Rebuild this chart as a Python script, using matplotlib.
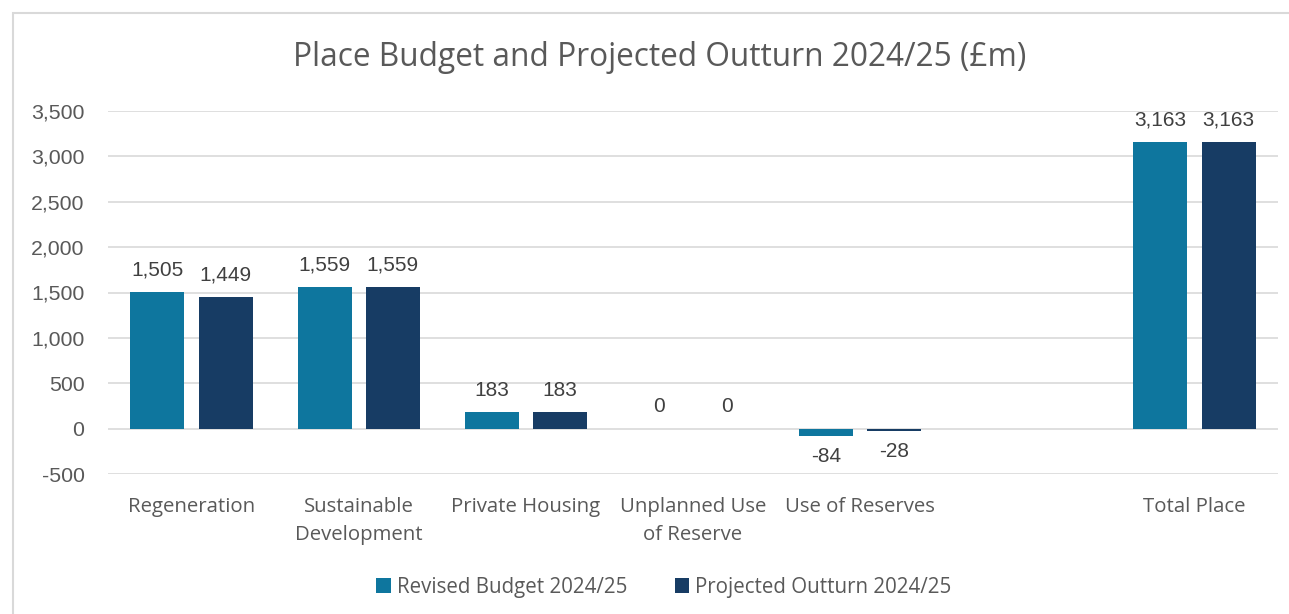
import matplotlib.pyplot as plt
import numpy as np
from matplotlib.patches import Rectangle

# chart data (£m)
categories = ['Regeneration', 'Sustainable\nDevelopment', 'Private Housing',
              'Unplanned Use\nof Reserve', 'Use of Reserves', '', 'Total Place']
budget = [1505, 1559, 183, 0, -84, None, 3163]
outturn = [1449, 1559, 183, 0, -28, None, 3163]
series_names = ['Revised Budget 2024/25', 'Projected Outturn 2024/25']
yticks = [-500, 0, 500, 1000, 1500, 2000, 2500, 3000, 3500]

teal = '#0E769E'
navy = '#173C64'
grey_txt = '#595959'
cat_font = 'Open Sans'
num_font = 'Liberation Sans'

fig = plt.figure(figsize=(12.89, 6.14), dpi=100)
ax = fig.add_axes([108/1289, 1-474/614, 1170/1289, 363/614])

# light chart border like the Excel chart area
fig.patches.append(Rectangle((13/1289, -0.1), 1.2, 1-13/614+0.1, transform=fig.transFigure,
                             fill=False, edgecolor='#D9D9D9', lw=1.5))

x = np.arange(len(categories))
w = 0.323
off = 0.204
for vals, dx, col, name in [(budget, -off, teal, series_names[0]), (outturn, off, navy, series_names[1])]:
    idx = [i for i, v in enumerate(vals) if v is not None]
    hs = [vals[i] for i in idx]
    ax.bar(x[idx] + dx, hs, width=w, color=col, label=name, zorder=3)
    for i, v in zip(idx, hs):
        if v >= 0:
            ax.annotate(f'{v:,}', (x[i] + dx, v), xytext=(0, 9), textcoords='offset points',
                        ha='center', va='bottom', fontsize=15, color='#404040', family=num_font)
        else:
            ax.annotate(f'{v:,}', (x[i] + dx, v), xytext=(0, -8), textcoords='offset points',
                        ha='center', va='top', fontsize=15, color='#404040', family=num_font)

ax.set_xlim(-0.5, len(categories) - 0.5)
ax.set_ylim(-500, 3500)
ax.set_yticks(yticks)
ax.set_yticklabels([f'{t:,}' for t in yticks], fontsize=15.3, color=grey_txt, family=num_font)
ax.set_xticks(x)
ax.set_xticklabels(categories, fontsize=14.7, color=grey_txt, family=cat_font, linespacing=1.55)
ax.tick_params(length=0)
ax.tick_params(axis='x', pad=16.5)
ax.tick_params(axis='y', pad=17)
ax.grid(axis='y', color='#D9D9D9', lw=1.2, zorder=0)
for s in ax.spines.values():
    s.set_visible(False)

fig.text(660/1289, 1-57/614, 'Place Budget and Projected Outturn 2024/25 (£m)', ha='center', va='center',
         fontsize=22.8, color=grey_txt, family=cat_font)

fig.legend(loc='center', bbox_to_anchor=(664/1289, 1-587/614), ncol=2, frameon=False,
           handlelength=0.7, handleheight=0.7, handletextpad=0.3, columnspacing=2.3,
           prop={'family': cat_font, 'size': 14.8}, labelcolor=grey_txt)

fig.savefig('out.png', dpi=100)
